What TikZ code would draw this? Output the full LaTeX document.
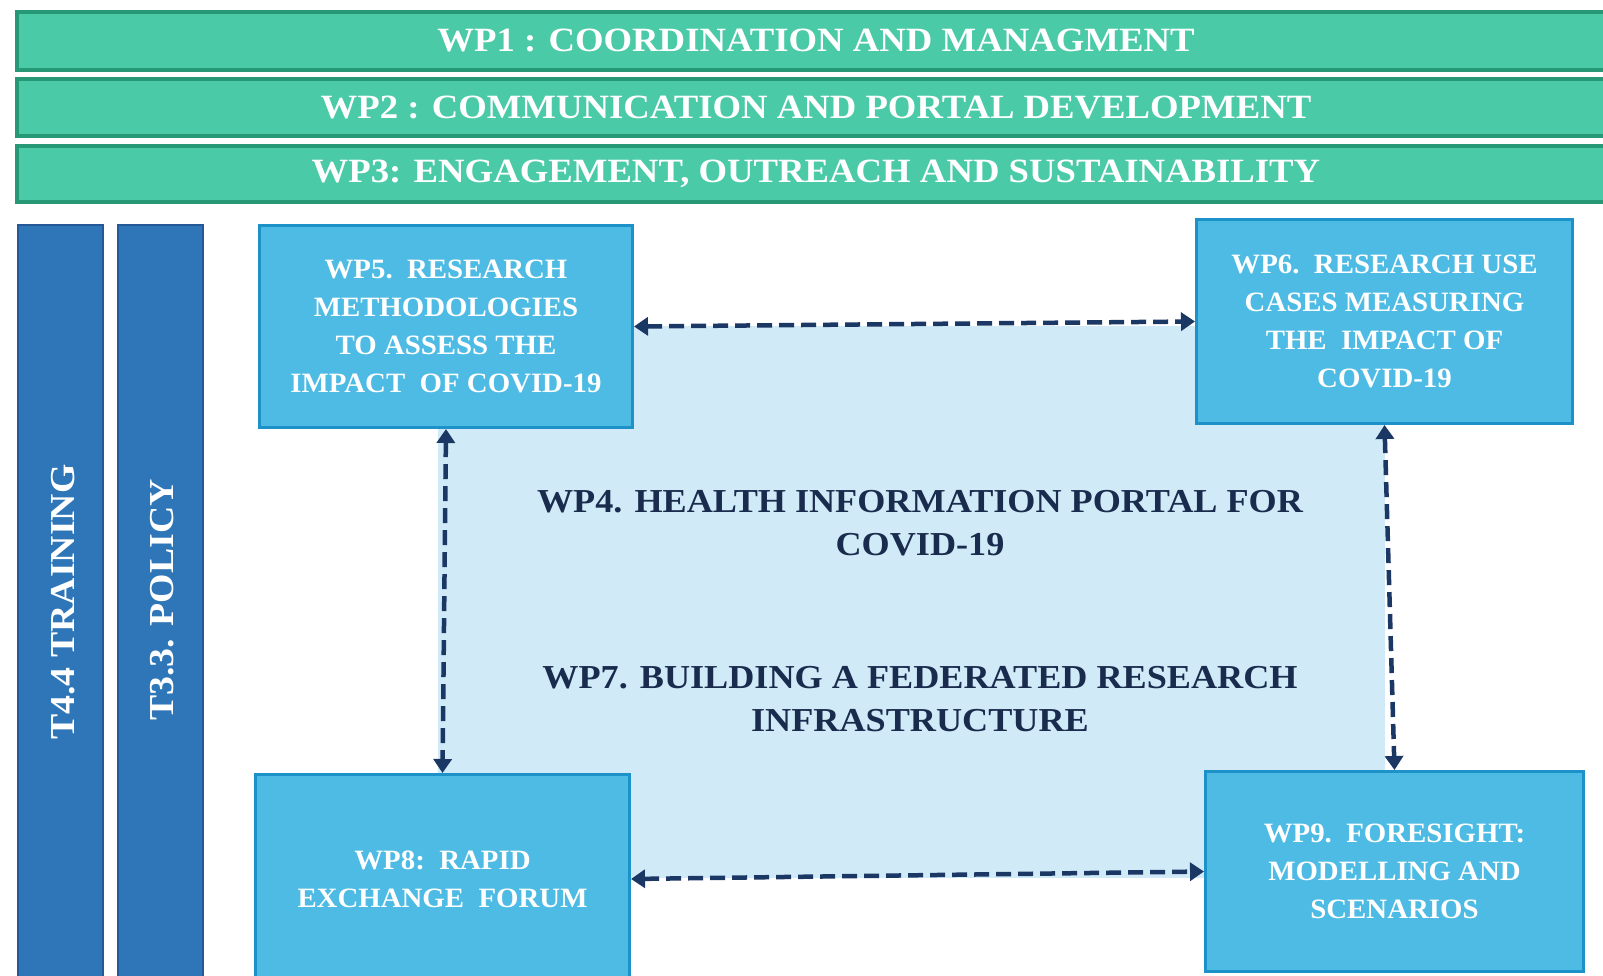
\documentclass[tikz,border=0pt]{standalone}
\usepackage{fontspec}
\setmainfont{Liberation Serif}
\newfontfamily\wpf[FakeStretch=1.08]{Liberation Serif}
\newfontfamily\boxf[FakeStretch=1.03]{Liberation Serif}
\usetikzlibrary{arrows.meta}
\definecolor{gfill}{RGB}{74,202,167}
\definecolor{gline}{RGB}{38,152,118}
\definecolor{tfill}{RGB}{46,118,184}
\definecolor{tline}{RGB}{36,88,150}
\definecolor{bfill}{RGB}{78,187,228}
\definecolor{bline}{RGB}{28,146,200}
\definecolor{core}{RGB}{208,235,247}
\definecolor{navy}{RGB}{27,55,100}
\definecolor{ttext}{RGB}{26,44,78}
\tikzset{
  gbar/.style={draw=gline, line width=4pt, fill=gfill, minimum width=1598pt, inner sep=0pt,
    text=white, font=\wpf\bfseries\fontsize{34}{40}\selectfont},
  tbar/.style={draw=tline, line width=2pt, fill=tfill, minimum width=85pt, minimum height=770pt, inner sep=0pt},
  tlabel/.style={rotate=90, text=white, inner sep=0pt, font=\wpf\bfseries\fontsize{35}{40}\selectfont},
  wpbox/.style={draw=bline, line width=3pt, fill=bfill, text=white, align=center, inner sep=0pt,
    font=\boxf\bfseries\fontsize{28}{38}\selectfont},
  coretext/.style={text=ttext, align=center, inner sep=0pt, font=\wpf\bfseries\fontsize{33.5}{43}\selectfont},
  link/.style={draw=navy, line width=4.5pt, dash pattern=on 15pt off 7pt,
    {Triangle[length=14pt,width=18pt]}-{Triangle[length=14pt,width=18pt]}}
}
\begin{document}
\begin{tikzpicture}[x=1pt,y=-1pt]
\useasboundingbox (0,0) rectangle (1603,976);
\clip (0,0) rectangle (1603,976);
\fill[white] (0,0) rectangle (1603,976);
% top bars
\node[gbar, minimum height=58pt] (wp1) at (816,41) {WP1 : COORDINATION AND MANAGMENT};
\node[gbar, minimum height=57pt] (wp2) at (816,107.5) {WP2 : COMMUNICATION AND PORTAL DEVELOPMENT};
\node[gbar, minimum height=56pt] (wp3) at (816,174) {WP3: ENGAGEMENT, OUTREACH AND SUSTAINABILITY};
% vertical task bars
\node[tbar, anchor=north] (t44) at (60.5,224) {};
\node[tbar, anchor=north] (t33) at (160.5,224) {};
\node[tlabel] (t44l) at (63,602) {T4.4 TRAINING};
\node[tlabel] (t33l) at (162,600) {T3.3. POLICY};
% central area
\node[fill=core, minimum width=947pt, minimum height=552pt, inner sep=0pt] (core) at (911.5,602) {};
\node[coretext] (wp4) at (920,523) {WP4. HEALTH INFORMATION PORTAL FOR\\COVID-19};
\node[coretext] (wp7) at (920,699) {WP7. BUILDING A FEDERATED RESEARCH\\INFRASTRUCTURE};
% corner boxes
\node[wpbox, minimum width=373pt, minimum height=202pt] (wp5) at (446,326.5)
  {WP5.\ \ RESEARCH\\METHODOLOGIES\\TO ASSESS THE\\IMPACT\ \ OF COVID-19};
\node[wpbox, minimum width=376pt, minimum height=204pt] (wp6) at (1384.5,321.5)
  {WP6.\ \ RESEARCH USE\\CASES MEASURING\\THE\ \ IMPACT OF\\COVID-19};
\node[wpbox, minimum width=374pt, minimum height=209pt] (wp8) at (442.5,879)
  {WP8:\ \ RAPID\\EXCHANGE\ \ FORUM};
\node[wpbox, minimum width=378pt, minimum height=200pt] (wp9) at (1394.5,871.5)
  {WP9.\ \ FORESIGHT:\\MODELLING AND\\SCENARIOS};
% links
\draw[link] (wp5.east) -- (wp6.west);
\draw[link] (wp5.south) -- (wp8.north);
\draw[link] (wp6.south) -- (wp9.north);
\draw[link] (wp8.east) -- (wp9.west);
\end{tikzpicture}
\end{document}
